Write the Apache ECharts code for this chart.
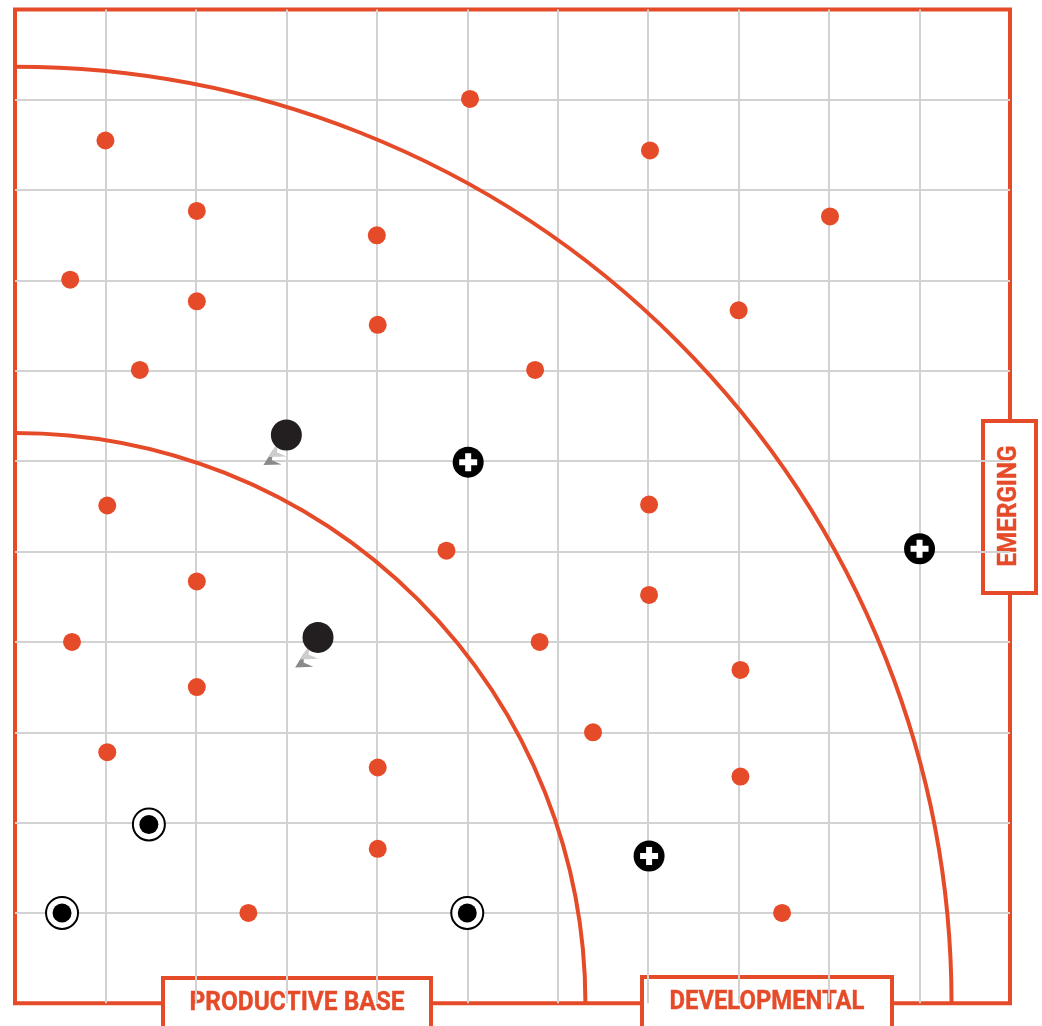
<!DOCTYPE html>
<html>
<head>
<meta charset="utf-8">
<script src="https://cdn.jsdelivr.net/npm/echarts@6/dist/echarts.min.js"></script>
<style>
html,body{margin:0;padding:0;background:#fff;}
#chart{width:1042px;height:1026px;}
</style>
</head>
<body>
<div id="chart"></div>
<script>
// ---- data ----
const axisMin = 0;
const axisMax = 11;
const arcRadii = [6.31, 10.36];
const zoneLabels = ['PRODUCTIVE BASE', 'DEVELOPMENTAL', 'EMERGING'];
const orangePoints = [
  [1.0, 9.55], [5.03, 10.01], [7.02, 9.44], [2.01, 8.77], [4.0, 8.5], [9.01, 8.71],
  [0.61, 8.01], [2.01, 7.77], [4.01, 7.51], [8.0, 7.67], [1.38, 7.01], [5.75, 7.01],
  [1.02, 5.51], [7.01, 5.52], [4.77, 5.01], [2.01, 4.67], [7.01, 4.52], [0.63, 4.0],
  [5.8, 4.0], [2.01, 3.5], [8.02, 3.69], [1.02, 2.78], [6.39, 3.0], [4.01, 2.61],
  [8.02, 2.51], [4.01, 1.71], [2.58, 1.0], [8.48, 1.0]
];
const plusPoints = [[5.01, 5.99], [10.0, 5.03], [7.01, 1.63]];
const ringPoints = [[1.48, 1.98], [0.52, 1.0], [5.0, 1.0]];
const movingPoints = [[3.0, 6.29], [3.35, 4.05]];

// ---- styles ----
const ORANGE = '#e64b29';
const GRIDGRAY = '#d2d2d2';
const plusPath = 'path://M-1,-3 L1,-3 L1,-1 L3,-1 L3,1 L1,1 L1,3 L-1,3 L-1,1 L-3,1 L-3,-1 L-1,-1 Z';
const chevronPath = 'path://M0,0 L10,18 L0,11 L-10,18 Z';
const fontFamily = 'Roboto, "Noto Sans", sans-serif';
const fontSize = 25;
const labelWidths = [215, 195, 121];

function fitScale(text, target) {
  const ctx = document.createElement('canvas').getContext('2d');
  ctx.font = 'bold ' + fontSize + 'px ' + fontFamily;
  const w = ctx.measureText(text).width;
  return w > 0 ? target / w : 1;
}

const chart = echarts.init(document.getElementById('chart'));

const axisCommon = {
  type: 'value', min: axisMin, max: axisMax, interval: 1,
  axisLine: { show: false }, axisTick: { show: false }, axisLabel: { show: false },
  splitLine: { show: true, showMinLine: false, showMaxLine: false, lineStyle: { color: GRIDGRAY, width: 2 } }
};

function labelText(i, x, y, rotation) {
  const s = fitScale(zoneLabels[i], labelWidths[i]);
  return {
    type: 'text', x: x, y: y, rotation: rotation || 0, scaleX: s, scaleY: 1,
    style: { text: zoneLabels[i], fill: ORANGE, font: 'bold ' + fontSize + 'px ' + fontFamily, align: 'center', verticalAlign: 'middle', stroke: ORANGE, lineWidth: 0.4 }
  };
}

chart.setOption({
  animation: false,
  backgroundColor: '#fff',
  grid: { left: 15, right: 32, top: 9.5, bottom: 22.7, show: true, borderColor: ORANGE, borderWidth: 4, backgroundColor: 'transparent' },
  xAxis: axisCommon,
  yAxis: axisCommon,
  series: [
    {
      type: 'custom',
      data: arcRadii.map(r => [r]),
      clip: false,
      z: 3,
      renderItem: function (params, api) {
        const r = api.value(0);
        const c = api.coord([0, 0]);
        const rx = api.size([r, 0])[0];
        const ry = api.size([0, r])[1];
        return {
          type: 'arc',
          shape: { cx: c[0], cy: c[1], r: (rx + ry) / 2, startAngle: -Math.PI / 2, endAngle: 0, clockwise: true },
          style: { stroke: ORANGE, lineWidth: 4, fill: null }
        };
      }
    },
    {
      type: 'scatter', data: orangePoints, symbol: 'circle', symbolSize: 18,
      itemStyle: { color: ORANGE, opacity: 1 }, z: 4
    },
    {
      type: 'scatter', data: plusPoints, symbol: 'circle', symbolSize: 31,
      itemStyle: { color: '#000', opacity: 1 }, z: 5
    },
    {
      type: 'scatter', data: plusPoints, symbol: plusPath, symbolSize: 18,
      itemStyle: { color: '#fff', opacity: 1 }, z: 6
    },
    {
      type: 'scatter', data: ringPoints, symbol: 'circle', symbolSize: 32,
      itemStyle: { color: '#fff', borderColor: '#000', borderWidth: 2, opacity: 1 }, z: 5
    },
    {
      type: 'scatter', data: ringPoints, symbol: 'circle', symbolSize: 19,
      itemStyle: { color: '#000', opacity: 1 }, z: 6
    },
    {
      type: 'scatter', data: movingPoints, symbol: chevronPath, symbolSize: [17, 16],
      symbolRotate: 120, symbolOffset: [-16, 26],
      itemStyle: { color: '#8a8a8a', opacity: 1 }, z: 5
    },
    {
      type: 'scatter', data: movingPoints, symbol: chevronPath, symbolSize: [17, 16],
      symbolRotate: 120, symbolOffset: [-11, 18],
      itemStyle: { color: '#cdcdcd', opacity: 1 }, z: 5
    },
    {
      type: 'scatter', data: movingPoints, symbol: 'circle', symbolSize: 31,
      itemStyle: { color: '#231f20', opacity: 1 }, z: 6
    }
  ],
  graphic: [
    {
      type: 'group', z: 100,
      children: [
        { type: 'rect', shape: { x: 163, y: 978, width: 268, height: 60 }, style: { fill: '#fff', stroke: ORANGE, lineWidth: 4 } },
        labelText(0, 297, 1004),
        { type: 'rect', shape: { x: 642, y: 977, width: 250, height: 60 }, style: { fill: '#fff', stroke: ORANGE, lineWidth: 4 } },
        labelText(1, 767, 1003),
        { type: 'rect', shape: { x: 983, y: 421, width: 53, height: 172 }, style: { fill: '#fff', stroke: ORANGE, lineWidth: 4 } },
        labelText(2, 1010, 506, Math.PI / 2)
      ]
    }
  ]
});
</script>
</body>
</html>
